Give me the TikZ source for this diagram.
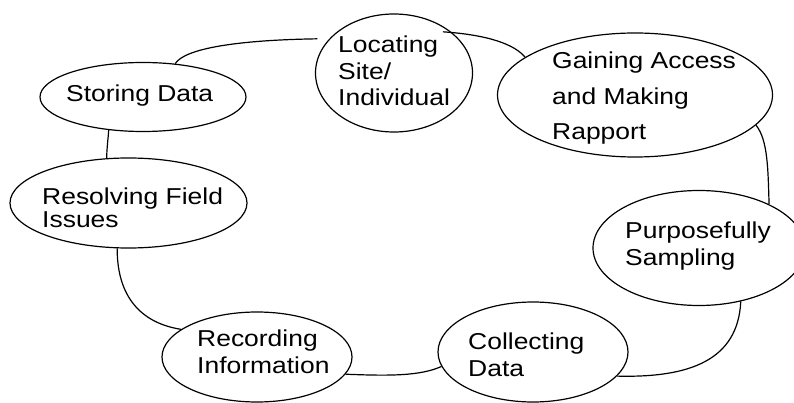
\documentclass[tikz,border=0pt]{standalone}
\usepackage{fontspec}
\newfontfamily\lblfont{Liberation Sans}[FakeStretch=1.15]
\usetikzlibrary{shapes.geometric}
\begin{document}
\begin{tikzpicture}[x=1pt,y=-1pt,
  stage/.style={draw, ellipse, line width=1.2pt, inner sep=0pt},
  caption/.style={anchor=base west, align=left, inner sep=0pt,
    font=\lblfont\fontsize{23}{26.5}\selectfont},
  link/.style={draw, line width=1.2pt}]
\useasboundingbox (0,0) rectangle (794,403);
\begin{scope}
\clip (0,0) rectangle (794,403);

% stages of the cycle
\node[stage, minimum width=206pt, minimum height=69pt]  (store)   at (143,97)   {};
\node[stage, minimum width=157pt, minimum height=118pt] (locate)  at (394,73)   {};
\node[stage, minimum width=275pt, minimum height=124pt] (gain)    at (635,95)   {};
\node[stage, minimum width=212pt, minimum height=115pt] (purpose) at (699,248)  {};
\node[stage, minimum width=190pt, minimum height=100pt] (collect) at (533,352)  {};
\node[stage, minimum width=190pt, minimum height=90pt]  (record)  at (257,357)  {};
\node[stage, minimum width=237pt, minimum height=90pt]  (resolve) at (128.5,203) {};

% labels (anchored at the baseline of their last line)
\node[caption] (storeT)   at (66,102)  {Storing Data};
\node[caption] (locateT)  at (338,106) {Locating\\Site/\\Individual};
\node[caption, font=\lblfont\fontsize{23}{35.5}\selectfont] (gainT) at (552,140) {Gaining Access\\and Making\\Rapport};
\node[caption] (purposeT) at (625,265) {Purposefully\\Sampling};
\node[caption] (collectT) at (468,376) {Collecting\\Data};
\node[caption] (recordT)  at (197,373) {Recording\\Information};
\node[caption, font=\lblfont\fontsize{23}{22.5}\selectfont] (resolveT) at (42,227) {Resolving Field\\Issues};

% connectors
\path[link, shorten >=12pt] (store.46) .. controls (185,48) and (240,40) .. (locate.152);
\path[link, shorten <=-9pt] (locate.35) .. controls (490,35) and (515,45) .. (gain.161);
\path[link] (gain.-14) .. controls (768,140) and (768,170) .. (purpose.32);
\path[link] (purpose.-52) .. controls (738,360) and (690,378) .. (collect.-16);
\path[link] (collect.189) .. controls (420,376) and (390,376) .. (record.-11);
\path[link] (record.160) .. controls (135,322) and (117,290) .. (resolve.256);
\path[link] (resolve.116) .. controls (107,146) and (108,140) .. (store.-136);
\end{scope}
\end{tikzpicture}
\end{document}
